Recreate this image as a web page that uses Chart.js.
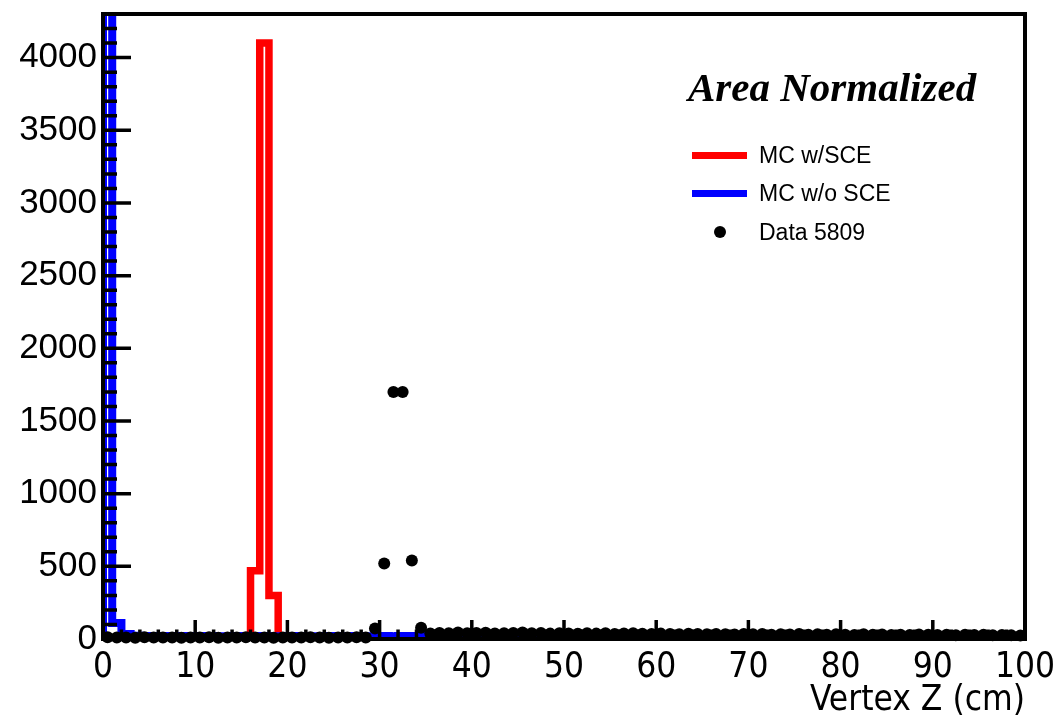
<!DOCTYPE html>
<html>
<head>
<meta charset="utf-8">
<script src="https://cdn.jsdelivr.net/npm/chart.js@4.4.0/dist/chart.umd.min.js"></script>
<style>
  html, body { margin: 0; padding: 0; background: #fff; }
  #wrap { position: relative; width: 1063px; height: 717px; }
  #chart { position: absolute; left: 0; top: 0; }
  .title {
    position: absolute; left: 688px; top: 63px;
    font: bold italic 41px "Liberation Serif", "DejaVu Serif", serif;
    color: #000; line-height: 48px; white-space: nowrap;
  }
  .leg { position: absolute; left: 692px; font: 23px "Liberation Sans", Arial, sans-serif; color: #000; }
  .leg .row { position: absolute; left: 0; height: 30px; width: 260px; white-space: nowrap; }
  .leg .mark { position: absolute; left: 0; top: 12px; width: 55px; height: 7px; }
  .leg .dot { position: absolute; left: 22px; top: 9px; width: 12px; height: 12px; border-radius: 50%; background: #000; }
  .leg .txt { position: absolute; left: 67px; top: 0; line-height: 30px; }
</style>
</head>
<body>
<div id="wrap">
  <canvas id="chart" width="1063" height="717"></canvas>
  <div class="title">Area Normalized</div>
  <div class="leg" style="top:140px">
    <div class="row" style="top:0"><div class="mark" style="background:#ff0000"></div><div class="txt">MC w/SCE</div></div>
    <div class="row" style="top:38px"><div class="mark" style="background:#0000ff"></div><div class="txt">MC w/o SCE</div></div>
    <div class="row" style="top:77px"><div class="dot"></div><div class="txt">Data 5809</div></div>
  </div>
</div>
<script>
// 100 bins of 1 cm from 0 to 100
const binEdgesLow = [
  0, 1, 2, 3, 4, 5, 6, 7, 8, 9, 10, 11, 12, 13, 14, 15, 16, 17, 18, 19,
  20, 21, 22, 23, 24, 25, 26, 27, 28, 29, 30, 31, 32, 33, 34, 35, 36, 37, 38, 39,
  40, 41, 42, 43, 44, 45, 46, 47, 48, 49, 50, 51, 52, 53, 54, 55, 56, 57, 58, 59,
  60, 61, 62, 63, 64, 65, 66, 67, 68, 69, 70, 71, 72, 73, 74, 75, 76, 77, 78, 79,
  80, 81, 82, 83, 84, 85, 86, 87, 88, 89, 90, 91, 92, 93, 94, 95, 96, 97, 98, 99
];
const binWidth = 1;

const mcWithSCE = [
  2, 2, 3, 2, 2, 3, 2, 2, 3, 2,
  2, 3, 2, 2, 3, 2, 470, 4100, 300, 3,
  2, 2, 3, 2, 2, 2, 3, 2, 2, 2,
  3, 2, 2, 2, 2, 3, 2, 2, 2, 2,
  2, 2, 3, 2, 2, 2, 2, 3, 2, 2,
  2, 3, 2, 2, 2, 2, 2, 3, 2, 2,
  2, 2, 2, 3, 2, 2, 2, 2, 2, 3,
  2, 2, 2, 2, 3, 2, 2, 2, 2, 2,
  3, 2, 2, 2, 2, 2, 3, 2, 2, 2,
  2, 2, 3, 2, 2, 2, 2, 2, 3, 2
];

const mcNoSCE = [
  5200, 110, 35, 22, 20, 21, 19, 20, 18, 20,
  19, 20, 18, 19, 20, 18, 19, 20, 19, 18,
  20, 19, 18, 19, 20, 19, 18, 20, 19, 18,
  20, 19, 20, 21, 19, 20, 19, 18, 20, 19,
  18, 19, 20, 19, 18, 20, 19, 18, 19, 20,
  19, 18, 20, 19, 18, 19, 20, 18, 19, 18,
  19, 20, 18, 19, 18, 19, 20, 18, 19, 18,
  19, 18, 20, 19, 18, 19, 18, 19, 18, 19,
  18, 19, 18, 19, 18, 20, 18, 19, 18, 19,
  18, 19, 18, 19, 18, 19, 18, 19, 18, 18
];

const data5809 = [
  12, 10, 11, 9, 12, 10, 11, 10, 9, 11,
  10, 12, 9, 11, 10, 12, 10, 11, 9, 10,
  11, 10, 12, 10, 9, 11, 10, 12, 11, 72,
  520, 1700, 1700, 540, 78, 38, 42, 40, 44, 39,
  41, 43, 38, 40, 42, 45, 39, 41, 37, 40,
  38, 36, 40, 37, 39, 35, 38, 40, 36, 34,
  37, 35, 33, 36, 34, 32, 35, 33, 31, 34,
  32, 35, 30, 33, 31, 34, 29, 32, 30, 33,
  30, 28, 32, 29, 31, 27, 30, 28, 31, 29,
  28, 30, 26, 29, 27, 30, 25, 28, 26, 24
];

const xTicks = [0, 10, 20, 30, 40, 50, 60, 70, 80, 90, 100];
const yTicks = [0, 500, 1000, 1500, 2000, 2500, 3000, 3500, 4000];
const xMin = 0, xMax = 100, yMin = 0, yMax = 4300;

// histogram outline: up from baseline, bin tops, back down at the end
const histPoints = (vals) => {
  const pts = [{ x: binEdgesLow[0], y: 0 }];
  vals.forEach((v, i) => pts.push({ x: binEdgesLow[i], y: v }));
  const last = binEdgesLow[binEdgesLow.length - 1] + binWidth;
  pts.push({ x: last, y: vals[vals.length - 1] });
  pts.push({ x: last, y: 0 });
  return pts;
};
const dataPoints = data5809.map((v, i) => ({ x: binEdgesLow[i] + binWidth / 2, y: v }));

// ROOT-like frame with inward ticks
const frameTicks = {
  id: 'frameTicks',
  afterDatasetsDraw(chart) {
    const { ctx, chartArea: a, scales: { x, y } } = chart;
    ctx.save();
    ctx.strokeStyle = '#000';
    ctx.lineWidth = 3.5;
    ctx.beginPath();
    for (let v = yMin; v <= yMax; v += 100) {
      const py = y.getPixelForValue(v);
      const len = v % 500 === 0 ? 28 : 14;
      ctx.moveTo(a.left, py);
      ctx.lineTo(a.left + len, py);
    }
    for (let v = xMin; v <= xMax; v += 2) {
      const px = x.getPixelForValue(v);
      const len = v % 10 === 0 ? 19 : 9.5;
      ctx.moveTo(px, a.bottom);
      ctx.lineTo(px, a.bottom - len);
    }
    ctx.stroke();
    ctx.lineWidth = 4;
    ctx.strokeRect(a.left, a.top, a.right - a.left, a.bottom - a.top);
    ctx.restore();
  }
};

const ctx = document.getElementById('chart');
new Chart(ctx, {
  type: 'line',
  data: {
    datasets: [
      {
        label: 'MC w/SCE',
        data: histPoints(mcWithSCE),
        borderColor: '#ff0000',
        borderWidth: 7.5,
        stepped: 'before',
        pointRadius: 0,
        fill: false,
        clip: 0,
        order: 2,
      },
      {
        label: 'MC w/o SCE',
        data: histPoints(mcNoSCE),
        borderColor: '#0000ff',
        borderWidth: 8,
        stepped: 'before',
        pointRadius: 0,
        fill: false,
        clip: { left: 2, top: 0, right: 0, bottom: 0 },
        order: 1,
      },
      {
        label: 'Data 5809',
        data: dataPoints,
        showLine: false,
        pointRadius: 6,
        pointBackgroundColor: '#000',
        pointBorderWidth: 0,
        borderColor: '#000',
        clip: false,
        order: 0,
      },
    ],
  },
  options: {
    responsive: false,
    animation: false,
    devicePixelRatio: 1,
    layout: { padding: { top: 14, right: 38, left: 0, bottom: 0 } },
    plugins: { legend: { display: false }, tooltip: { enabled: false } },
    scales: {
      x: {
        type: 'linear',
        min: xMin,
        max: xMax,
        grid: { display: false, drawTicks: false },
        border: { display: false },
        afterBuildTicks: (s) => { s.ticks = xTicks.map((v) => ({ value: v })); },
        afterFit: (s) => { s.height = 78; s.paddingLeft = 0; s.paddingRight = 0; },
        ticks: {
          padding: 8,
          color: '#000',
          maxRotation: 0,
          callback: (v) => String(v),
          font: { family: "'Liberation Sans Narrow', 'DejaVu Sans Condensed', 'Liberation Sans'", size: 35 },
        },
        title: {
          display: true,
          text: 'Vertex Z (cm)',
          align: 'end',
          color: '#000',
          padding: { top: 0, bottom: -5 },
          font: { family: "'Liberation Sans Narrow', 'DejaVu Sans Condensed', 'Liberation Sans'", size: 35 },
        },
      },
      y: {
        type: 'linear',
        min: yMin,
        max: yMax,
        grid: { display: false, drawTicks: false },
        border: { display: false },
        afterBuildTicks: (s) => { s.ticks = yTicks.map((v) => ({ value: v })); },
        afterFit: (s) => { s.width = 103; s.paddingTop = 0; s.paddingBottom = 0; },
        ticks: {
          padding: 6,
          color: '#000',
          callback: (v) => String(v),
          font: { family: "'Liberation Sans', Arial, sans-serif", size: 35 },
        },
      },
    },
  },
  plugins: [frameTicks],
});
</script>
</body>
</html>
